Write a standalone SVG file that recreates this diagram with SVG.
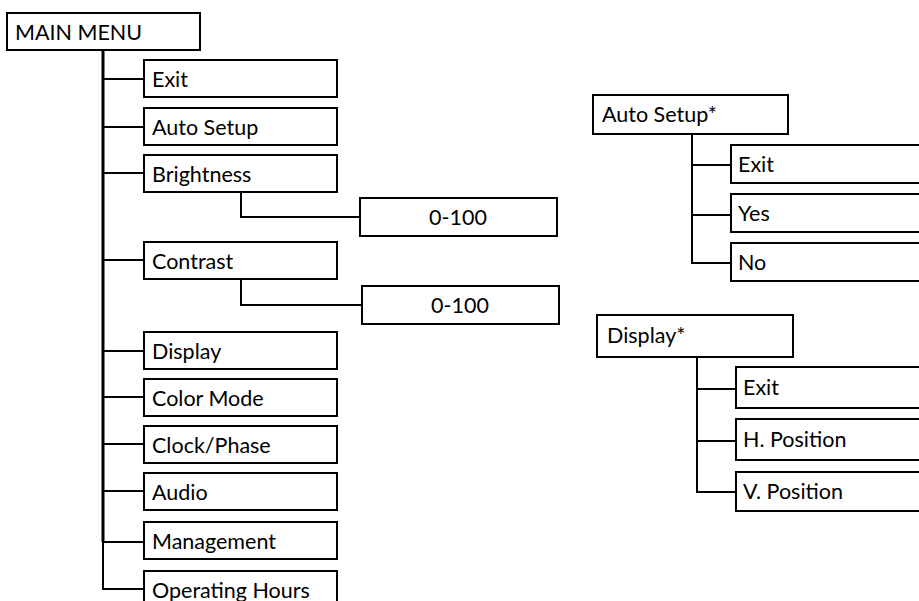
<svg xmlns="http://www.w3.org/2000/svg" width="919" height="601" viewBox="0 0 919 601">
<style>
rect{fill:#fff;stroke:#000;stroke-width:2}
text{font-family:Lato,"Liberation Sans",sans-serif;font-size:21.5px;fill:#000}
.c{fill:none;stroke:#000;stroke-width:2}
.t{fill:none;stroke:#000;stroke-width:3}
.m{text-anchor:middle}
</style>
<rect x="0" y="0" width="919" height="601" style="fill:#fff;stroke:none"/>
<g id="connectors">
<path class="t" d="M103 50V542"/>
<path class="c" d="M103 542V589H144"/>
<path class="c" d="M103 79H144M103 127H144M103 173H144M103 260H144M103 351H144M103 397H144M103 444H144M103 491H144M103 542H144"/>
<path class="c" d="M241 192V217H360"/>
<path class="c" d="M241 279V305H362"/>
<path class="c" d="M692 134V263H731M692 165H731M692 215H731"/>
<path class="c" d="M697 357V492H736M697 389H736M697 441H736"/>
</g>
<g id="main-menu"><rect x="7" y="13" width="193" height="37"/><text x="15" y="40">MAIN MENU</text></g>
<g id="exit"><rect x="144" y="60" width="193" height="37"/><text x="152" y="87">Exit</text></g>
<g id="auto-setup"><rect x="144" y="108" width="193" height="37"/><text x="152" y="135">Auto Setup</text></g>
<g id="brightness"><rect x="144" y="155" width="193" height="37"/><text x="152" y="182">Brightness</text></g>
<g id="brightness-range"><rect x="360" y="198" width="197" height="38"/><text class="m" x="458" y="225">0-100</text></g>
<g id="contrast"><rect x="144" y="242" width="193" height="37"/><text x="152" y="269">Contrast</text></g>
<g id="contrast-range"><rect x="362" y="286" width="197" height="38"/><text class="m" x="460" y="313">0-100</text></g>
<g id="display"><rect x="144" y="332" width="193" height="37"/><text x="152" y="359">Display</text></g>
<g id="color-mode"><rect x="144" y="379" width="193" height="37"/><text x="152" y="406">Color Mode</text></g>
<g id="clock-phase"><rect x="144" y="426" width="193" height="37"/><text x="152" y="453">Clock/Phase</text></g>
<g id="audio"><rect x="144" y="473" width="193" height="37"/><text x="152" y="500">Audio</text></g>
<g id="management"><rect x="144" y="522" width="193" height="37"/><text x="152" y="549">Management</text></g>
<g id="operating-hours"><rect x="144" y="571" width="193" height="40"/><text x="152" y="598">Operating Hours</text></g>
<g id="auto-setup-menu"><rect x="593" y="95" width="195" height="39"/><text x="602" y="122">Auto Setup*</text></g>
<g id="as-exit"><rect x="731" y="145" width="200" height="38"/><text x="738" y="172">Exit</text></g>
<g id="as-yes"><rect x="731" y="194" width="200" height="38"/><text x="738" y="221">Yes</text></g>
<g id="as-no"><rect x="731" y="243" width="200" height="38"/><text x="738" y="270">No</text></g>
<g id="display-menu"><rect x="597" y="315" width="196" height="42"/><text x="607" y="343">Display*</text></g>
<g id="d-exit"><rect x="736" y="367" width="200" height="41"/><text x="743" y="395">Exit</text></g>
<g id="d-hpos"><rect x="736" y="419" width="200" height="41"/><text x="743" y="447">H. Position</text></g>
<g id="d-vpos"><rect x="736" y="472" width="200" height="39"/><text x="743" y="499">V. Position</text></g>
</svg>
